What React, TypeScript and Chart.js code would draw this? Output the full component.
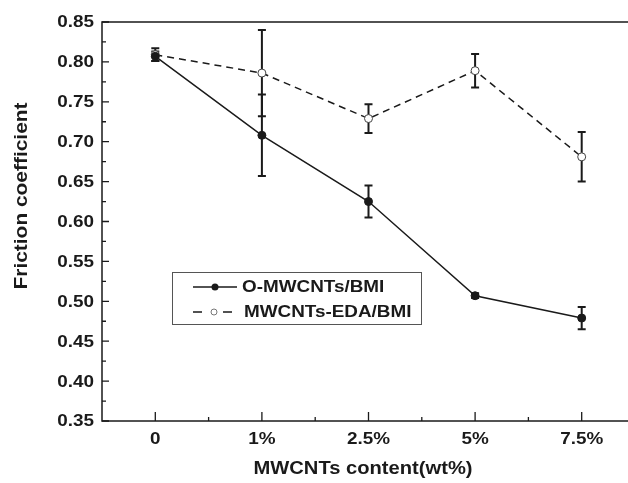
import React, { useEffect, useRef } from "react";
import { Chart, registerables } from "chart.js";

Chart.register(...registerables);

// ---- data ----
const categories = ["0", "1%", "2.5%", "5%", "7.5%"];
const oMwcntsValues = [0.807, 0.708, 0.625, 0.507, 0.479];
const oMwcntsErrors = [0.006, 0.051, 0.02, 0.003, 0.014];
const edaValues = [0.809, 0.786, 0.729, 0.789, 0.681];
const edaErrors = [0.008, 0.054, 0.018, 0.021, 0.031];
const yMin = 0.35;
const yMax = 0.85;
const yStep = 0.05;
const seriesNames = ["O-MWCNTs/BMI", "MWCNTs-EDA/BMI"];
const xTitle = "MWCNTs content(wt%)";
const yTitle = "Friction coefficient";

const FONT = '"Liberation Sans", Arial, sans-serif';
const INK = "#1a1a1a";
const CANVAS_W = 640;
const CANVAS_H = 483;

function stretchedText(
  ctx: CanvasRenderingContext2D,
  text: string,
  x: number,
  y: number,
  sx: number,
  align: CanvasTextAlign,
  rotate = 0
) {
  ctx.save();
  ctx.translate(x, y);
  if (rotate) ctx.rotate(rotate);
  ctx.scale(sx, 1);
  ctx.textAlign = align;
  ctx.fillText(text, 0, 0);
  ctx.restore();
}

const decorPlugin = {
  id: "decor",
  beforeDatasetsDraw(chart: any) {
    const { ctx, scales } = chart;
    const x = scales.x;
    const y = scales.y;
    ctx.save();
    ctx.strokeStyle = INK;
    ctx.lineWidth = 2;
    const sets: [number[], number[]][] = [
      [oMwcntsValues, oMwcntsErrors],
      [edaValues, edaErrors],
    ];
    sets.forEach(([vals, errs]) => {
      vals.forEach((v, i) => {
        const px = x.getPixelForValue(i);
        const yt = y.getPixelForValue(v + errs[i]);
        const yb = y.getPixelForValue(v - errs[i]);
        ctx.beginPath();
        ctx.moveTo(px, yt);
        ctx.lineTo(px, yb);
        ctx.moveTo(px - 4, yt);
        ctx.lineTo(px + 4, yt);
        ctx.moveTo(px - 4, yb);
        ctx.lineTo(px + 4, yb);
        ctx.stroke();
      });
    });
    ctx.restore();
  },
  afterDraw(chart: any) {
    const { ctx, chartArea: a, scales } = chart;
    const x = scales.x;
    const y = scales.y;
    ctx.save();
    // frame
    ctx.strokeStyle = INK;
    ctx.lineWidth = 1.5;
    ctx.strokeRect(a.left, a.top, a.right - a.left, a.bottom - a.top);

    // ticks, all pointing inward
    ctx.lineWidth = 1.3;
    ctx.beginPath();
    categories.forEach((_, i) => {
      const px = x.getPixelForValue(i);
      ctx.moveTo(px, a.bottom);
      ctx.lineTo(px, a.bottom - 9);
      if (i < categories.length - 1) {
        const mx = x.getPixelForValue(i + 0.5);
        ctx.moveTo(mx, a.bottom);
        ctx.lineTo(mx, a.bottom - 4);
      }
    });
    y.ticks.forEach((t: any) => {
      const py = y.getPixelForValue(t.value);
      ctx.moveTo(a.left, py);
      ctx.lineTo(a.left + 7, py);
      const mv = t.value + yStep / 2;
      if (mv < yMax) {
        const my = y.getPixelForValue(mv);
        ctx.moveTo(a.left, my);
        ctx.lineTo(a.left + 4, my);
      }
    });
    ctx.stroke();

    // tick labels
    ctx.fillStyle = INK;
    ctx.textBaseline = "middle";
    ctx.font = `bold 16px ${FONT}`;
    y.ticks.forEach((t: any) => {
      const py = y.getPixelForValue(t.value);
      stretchedText(ctx, Number(t.value).toFixed(2), a.left - 8, py + 1, 1.18, "right");
    });
    categories.forEach((c, i) => {
      const px = x.getPixelForValue(i);
      stretchedText(ctx, c, px, a.bottom + 19, 1.18, "center");
    });

    // axis titles
    ctx.font = `bold 18px ${FONT}`;
    stretchedText(ctx, xTitle, 363, 469, 1.12, "center");
    ctx.font = `bold 19px ${FONT}`;
    stretchedText(ctx, yTitle, 22, 196, 1.1, "center", -Math.PI / 2);

    // legend
    const bx = 172, by = 272, bw = 249, bh = 52;
    ctx.fillStyle = "#fff";
    ctx.fillRect(bx, by, bw, bh);
    ctx.strokeStyle = "#555";
    ctx.lineWidth = 1;
    ctx.strokeRect(bx + 0.5, by + 0.5, bw, bh);

    const r1 = 287, r2 = 312;
    ctx.strokeStyle = INK;
    ctx.lineWidth = 1.5;
    ctx.beginPath();
    ctx.moveTo(193, r1);
    ctx.lineTo(237, r1);
    ctx.stroke();
    ctx.fillStyle = INK;
    ctx.beginPath();
    ctx.arc(215, r1, 3.5, 0, Math.PI * 2);
    ctx.fill();

    ctx.beginPath();
    ctx.moveTo(193, r2);
    ctx.lineTo(202, r2);
    ctx.moveTo(223, r2);
    ctx.lineTo(232, r2);
    ctx.stroke();
    ctx.strokeStyle = "#777";
    ctx.lineWidth = 1;
    ctx.fillStyle = "#fff";
    ctx.beginPath();
    ctx.arc(214, r2, 3, 0, Math.PI * 2);
    ctx.fill();
    ctx.stroke();

    ctx.fillStyle = INK;
    ctx.font = `bold 16px ${FONT}`;
    ctx.textBaseline = "middle";
    stretchedText(ctx, seriesNames[0], 242, r1 + 1, 1.18, "left");
    stretchedText(ctx, seriesNames[1], 244, r2 + 1, 1.18, "left");
    ctx.restore();
  },
};

export default function App() {
  const canvasRef = useRef<HTMLCanvasElement | null>(null);

  useEffect(() => {
    const canvas = canvasRef.current;
    if (!canvas) return;
    const chart = new Chart(canvas, {
      type: "line",
      data: {
        labels: categories,
        datasets: [
          {
            label: seriesNames[0],
            data: oMwcntsValues,
            borderColor: INK,
            borderWidth: 1.5,
            pointRadius: 4,
            pointBackgroundColor: INK,
            pointBorderColor: INK,
            pointBorderWidth: 1,
            tension: 0,
          },
          {
            label: seriesNames[1],
            data: edaValues,
            borderColor: INK,
            borderWidth: 1.5,
            borderDash: [7, 5],
            pointRadius: 4,
            pointBackgroundColor: "#fff",
            pointBorderColor: "#444",
            pointBorderWidth: 1,
            tension: 0,
          },
        ],
      },
      options: {
        responsive: false,
        animation: false,
        events: [],
        layout: { padding: { top: 22, right: 5, left: 0, bottom: 0 } },
        plugins: {
          legend: { display: false },
          tooltip: { enabled: false },
        },
        scales: {
          x: {
            type: "category",
            offset: true,
            grid: { display: false, drawTicks: false, drawOnChartArea: false },
            border: { display: false },
            ticks: { display: false },
            title: { display: false },
            afterFit: (s: any) => {
              s.height = 62;
            },
          },
          y: {
            type: "linear",
            min: yMin,
            max: yMax,
            grid: { display: false, drawTicks: false, drawOnChartArea: false },
            border: { display: false },
            ticks: { display: false, stepSize: yStep },
            title: { display: false },
            afterFit: (s: any) => {
              s.width = 102;
            },
          },
        },
      },
      plugins: [decorPlugin],
    });
    return () => chart.destroy();
  }, []);

  return (
    <div
      style={{
        position: "fixed",
        left: 0,
        top: 0,
        width: 628,
        height: 483,
        overflow: "hidden",
        background: "#fff",
      }}
    >
      <canvas
        ref={canvasRef}
        width={CANVAS_W}
        height={CANVAS_H}
        style={{ display: "block", width: CANVAS_W, height: CANVAS_H }}
      />
    </div>
  );
}
